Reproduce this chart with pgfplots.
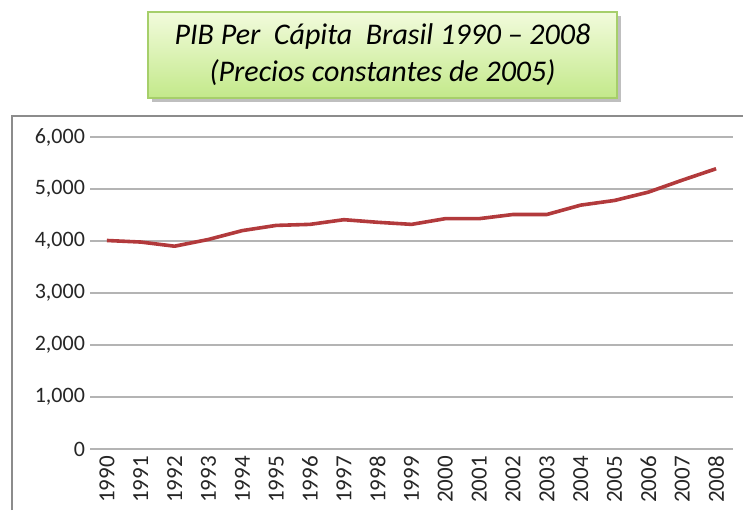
\documentclass[border=0pt]{standalone}
\usepackage{pgfplots}
\pgfplotsset{compat=1.18}
\usepackage{fontspec}
\setmainfont{Carlito}
\definecolor{linered}{HTML}{B23A3C}
\definecolor{gridgray}{HTML}{B4B4B4}
\definecolor{framegray}{HTML}{8C8C8C}
\definecolor{boxtop}{HTML}{F2FBDC}
\definecolor{boxbot}{HTML}{C3E98A}
\definecolor{boxborder}{HTML}{A6CF6A}
\begin{document}
\begin{tikzpicture}
\useasboundingbox (0,0) rectangle (371.5pt,255pt);
% outer chart frame (left and top visible)
\draw[framegray, line width=0.8pt] (6pt,0) -- (6pt,197pt) -- (371.5pt,197pt);
% title box
\fill[black!25] (76pt,204pt) rectangle (310.5pt,247pt);
\shade[top color=boxtop, bottom color=boxbot, draw=boxborder, line width=0.6pt] (74pt,206pt) rectangle (308.5pt,249pt);
\node[align=center, font=\itshape\fontsize{15}{18.5}\selectfont, text=black] at (191.25pt,227.5pt) {PIB Per\ \ Cápita\ \ Brasil 1990 -- 2008\\(Precios constantes de 2005)};
\begin{axis}[
  at={(45pt,30.5pt)}, anchor=south west,
  scale only axis, width=321.5pt, height=156pt,
  xmin=1989.5, xmax=2008.5, ymin=0, ymax=6000,
  xtick={1990,1991,...,2008},
  ytick={0,1000,...,6000},
  axis x line*=bottom,
  axis y line*=left,
  x axis line style={draw=gridgray, line width=0.8pt, -},
  y axis line style={draw=none},
  ymajorgrids, grid style={gridgray, line width=0.6pt},
  major tick length=0pt,
  xticklabel style={rotate=90, anchor=east, font=\fontsize{11.5}{13}\selectfont, text=black!85},
  yticklabel style={font=\fontsize{11}{13}\selectfont, text=black!85, xshift=1pt},
  xticklabel={\pgfmathprintnumber[1000 sep={}]{\tick}},
  yticklabel={\pgfmathprintnumber[1000 sep={,}]{\tick}},
  /pgf/number format/assume math mode=true,
  clip=false,
]
\addplot[linered, line width=1.8pt, line join=round] coordinates {
(1990,4010) (1991,3980) (1992,3900) (1993,4030) (1994,4200) (1995,4300)
(1996,4320) (1997,4410) (1998,4360) (1999,4320) (2000,4430) (2001,4430)
(2002,4510) (2003,4510) (2004,4690) (2005,4780) (2006,4940) (2007,5170)
(2008,5390)};
\end{axis}
\end{tikzpicture}
\end{document}
